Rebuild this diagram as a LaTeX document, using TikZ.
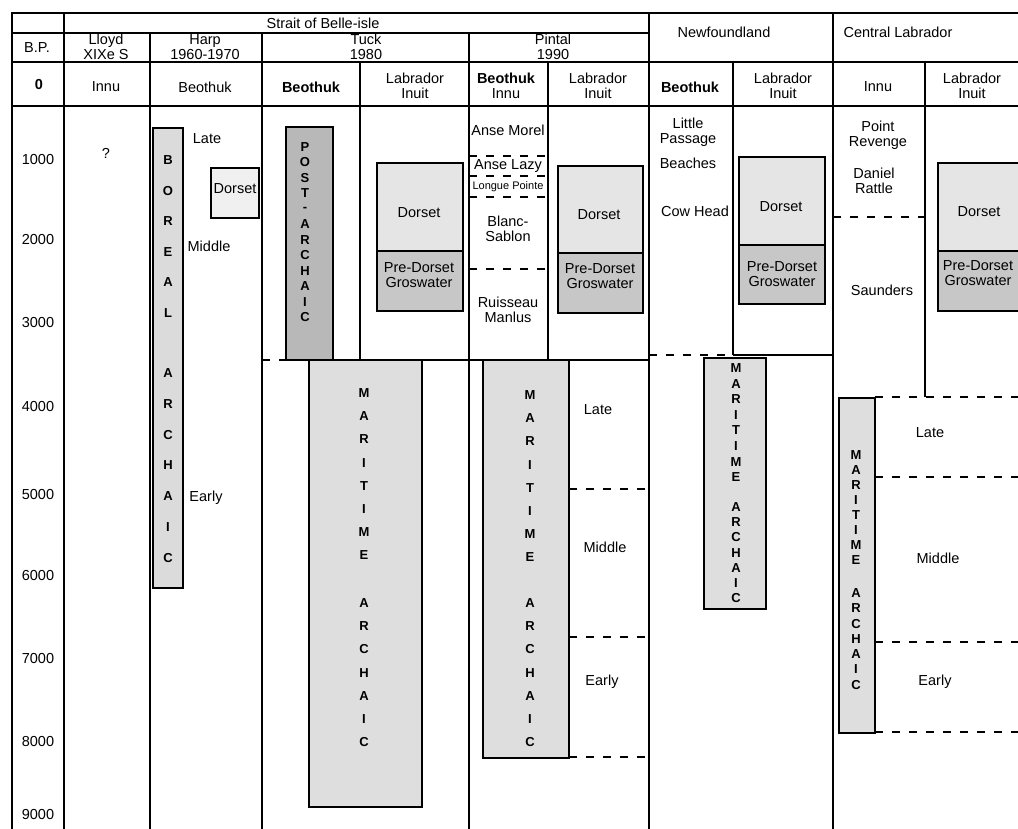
\documentclass[tikz,border=0pt]{standalone}
\usepackage{fontspec}
\setmainfont{Liberation Sans}
\newcommand{\vstack}[5]{%
  \foreach \c [count=\i from 0] in {#5} {\node[vl] (#1\i) at (#2, #3+\i*#4) {\c};}}
\begin{document}
\begin{tikzpicture}[x=1pt,y=-1pt,
  rule/.style={line width=1.5pt},
  dashrule/.style={line width=1.3pt, dash pattern=on 8pt off 9pt},
  box/.style={draw, line width=1.2pt},
  txt/.style={inner sep=0pt, align=center, font=\fontsize{14.5}{15}\selectfont},
  sml/.style={inner sep=0pt, align=center, font=\fontsize{11}{12}\selectfont},
  vl/.style={inner sep=0pt, font=\bfseries\fontsize{13}{13}\selectfont},
]
\clip (0,0) rectangle (1018,829);
\fill[white] (0,0) rectangle (1018,829);

% ---------- shaded boxes ----------
\draw[box, fill=black!14] (153,128) rectangle (183,588);
\draw[box, fill=black!6]  (211,168) rectangle (259,218);
\draw[box, fill=black!28] (286,127) rectangle (333,360);
\draw[box, fill=black!10] (377,163) rectangle (463,251);
\draw[box, fill=black!22] (377,251) rectangle (463,311);
\draw[box, fill=black!10] (558,166) rectangle (643,253);
\draw[box, fill=black!22] (558,253) rectangle (643,313);
\draw[box, fill=black!10] (739,157) rectangle (825,245);
\draw[box, fill=black!22] (739,245) rectangle (825,304);
\draw[box, fill=black!10] (938,163) rectangle (1030,251);
\draw[box, fill=black!22] (938,251) rectangle (1030,311);
\draw[box, fill=black!13] (309,360) rectangle (422,807);
\draw[box, fill=black!13] (483,360) rectangle (569,758);
\draw[box, fill=black!13] (704,358) rectangle (766,609);
\draw[box, fill=black!13] (839,398) rectangle (875,733);

% ---------- table rules ----------
\draw[rule] (11,13) -- (1018,13);
\draw[rule] (11,33) -- (648,33);
\draw[rule] (11,62) -- (1018,62);
\draw[rule] (11,106) -- (1018,106);
\draw[rule] (12,13) -- (12,829);
\draw[rule] (64,13) -- (64,829);
\draw[rule] (150,33) -- (150,829);
\draw[rule] (262,33) -- (262,829);
\draw[rule] (360,62) -- (360,360);
\draw[rule] (469,33) -- (469,829);
\draw[rule] (548,62) -- (548,360);
\draw[rule] (649,13) -- (649,829);
\draw[rule] (733,62) -- (733,355);
\draw[rule] (833,13) -- (833,829);
\draw[rule] (925,62) -- (925,397);

% body horizontals
\draw[dashrule] (262,360) -- (286,360);
\draw[rule] (286,360) -- (649,360);
\draw[dashrule] (649,355) -- (733,355);
\draw[rule] (733,355) -- (833,355);
\draw[dashrule] (875,397) -- (1018,397);
\draw[dashrule] (833,217) -- (925,217);
\draw[dashrule] (875,477) -- (1018,477);
\draw[dashrule] (875,642) -- (1018,642);
\draw[dashrule] (875,732) -- (1018,732);
\draw[dashrule] (469,156) -- (548,156);
\draw[dashrule] (469,176) -- (548,176);
\draw[dashrule] (469,197) -- (548,197);
\draw[dashrule] (469,269) -- (548,269);
\draw[dashrule] (569,489) -- (649,489);
\draw[dashrule] (569,637) -- (649,637);
\draw[dashrule] (569,757) -- (649,757);

% ---------- headers ----------
\node[txt] (strait) at (323,23) {Strait of Belle-isle};
\node[txt] (nfl) at (724,32) {Newfoundland};
\node[txt] (cl) at (898,32) {Central Labrador};
\node[txt] (bp) at (37,48) {B.P.};
\node[txt] (lloyd) at (106,47) {Lloyd\\XIXe S};
\node[txt] (harp) at (205,47) {Harp\\1960-1970};
\node[txt] (tuck) at (366,47) {Tuck\\1980};
\node[txt] (pintal) at (553,47) {Pintal\\1990};
\node[txt] (zero) at (39,85) {\bfseries 0};
\node[txt] (h1) at (106,87) {Innu};
\node[txt] (h2) at (205,87) {Beothuk};
\node[txt] (h3) at (311,87) {\bfseries Beothuk};
\node[txt] (h4) at (415,86) {Labrador\\Inuit};
\node[txt] (h5) at (506,86) {\bfseries Beothuk\\Innu};
\node[txt] (h6) at (598,86) {Labrador\\Inuit};
\node[txt] (h7) at (690,87) {\bfseries Beothuk};
\node[txt] (h8) at (783,86) {Labrador\\Inuit};
\node[txt] (h9) at (878,87) {Innu};
\node[txt] (h10) at (972,86) {Labrador\\Inuit};

% ---------- B.P. scale ----------
\foreach \v/\yy [count=\k] in {1000/160,2000/240,3000/323,4000/407,5000/495,6000/576,7000/659,8000/742,9000/815}
  {\node[txt] (bp\k) at (38,\yy) {\v};}

% ---------- Lloyd / Harp ----------
\node[txt] (q) at (106,153) {?};
\vstack{bo}{168}{160}{30.6}{B,O,R,E,A,L}
\vstack{ba}{168}{373}{30.8}{A,R,C,H,A,I,C}
\node[txt] (hlate) at (207,139) {Late};
\node[txt] (hmid) at (209,246) {Middle};
\node[txt] (hearly) at (206,498) {Early};
\node[txt] (hdor) at (235,189) {Dorset};

% ---------- Tuck ----------
\vstack{pa}{305}{147}{15.5}{P,O,S,T,-,A,R,C,H,A,I,C}
\node[txt] (tdor) at (419,213) {Dorset};
\node[txt] (tpre) at (419,275) {Pre-Dorset\\Groswater};
\vstack{tm}{364}{393}{23.2}{M,A,R,I,T,I,M,E}
\vstack{ta}{364}{603}{23.2}{A,R,C,H,A,I,C}

% ---------- Pintal ----------
\node[txt] (amorel) at (508,130) {Anse Morel};
\node[txt] (alazy) at (508,166) {Anse Lazy};
\node[sml] (lpointe) at (508,187) {Longue Pointe};
\node[txt] (blanc) at (508,229) {Blanc-\\Sablon};
\node[txt] (ruis) at (508,310) {Ruisseau\\Manlus};
\node[txt] (pdor) at (599,215) {Dorset};
\node[txt] (ppre) at (600,276) {Pre-Dorset\\Groswater};
\vstack{pm}{530}{395}{23.2}{M,A,R,I,T,I,M,E}
\vstack{pq}{530}{603}{23.2}{A,R,C,H,A,I,C}
\node[txt] (plate) at (598,410) {Late};
\node[txt] (pmid) at (605,547) {Middle};
\node[txt] (pearly) at (602,682) {Early};

% ---------- Newfoundland ----------
\node[txt] (little) at (688,132) {Little\\Passage};
\node[txt] (beaches) at (688,163) {Beaches};
\node[txt] (cowhead) at (695,211) {Cow Head};
\node[txt] (ndor) at (781,207) {Dorset};
\node[txt] (npre) at (782,274) {Pre-Dorset\\Groswater};
\vstack{nm}{736}{368}{15.6}{M,A,R,I,T,I,M,E}
\vstack{na}{736}{507}{15.2}{A,R,C,H,A,I,C}

% ---------- Central Labrador ----------
\node[txt] (point) at (878,135) {Point\\Revenge};
\node[txt] (daniel) at (874,181) {Daniel\\Rattle};
\node[txt] (saunders) at (882,290) {Saunders};
\node[txt] (cdor) at (979,212) {Dorset};
\node[txt] (cpre) at (978,273) {Pre-Dorset\\Groswater};
\vstack{cm}{856}{455}{15}{M,A,R,I,T,I,M,E}
\vstack{ca}{856}{593}{15.3}{A,R,C,H,A,I,C}
\node[txt] (clate) at (930,433) {Late};
\node[txt] (cmid) at (938,558) {Middle};
\node[txt] (cearly) at (935,682) {Early};
\end{tikzpicture}
\end{document}
